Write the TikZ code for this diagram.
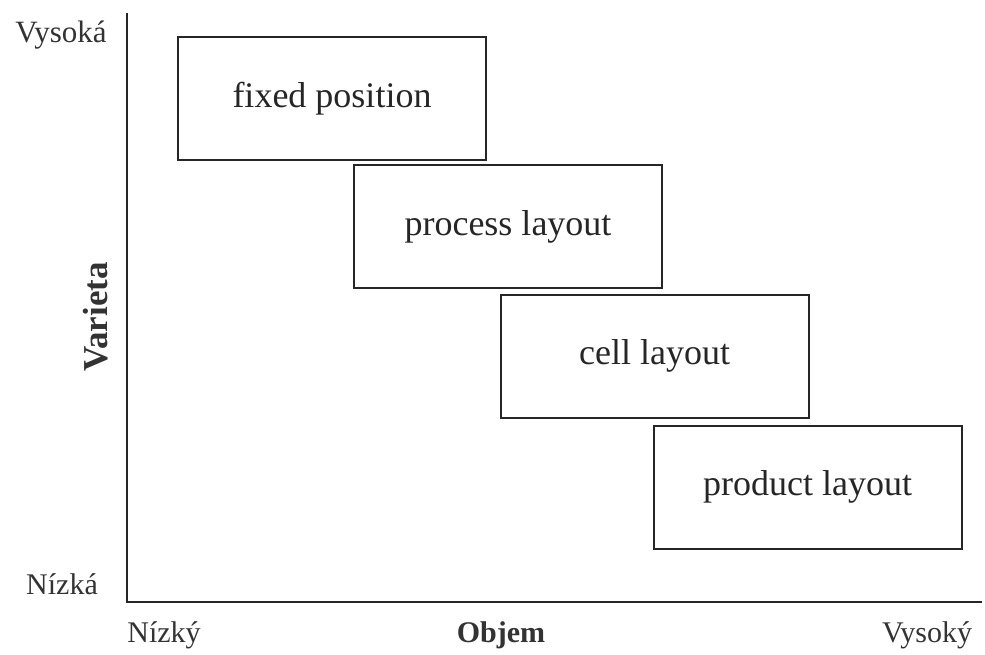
\documentclass[tikz,border=0pt]{standalone}
\usepackage{fontspec}
\setmainfont{Liberation Serif}
\begin{document}
\begin{tikzpicture}[x=1pt,y=-1pt,
  zone/.style={draw=black!85, line width=2pt, minimum width=308pt, minimum height=123pt,
    font=\fontsize{36}{40}\selectfont, text=black!85, inner sep=0pt},
  axislabel/.style={font=\fontsize{30}{34}\selectfont, text=black!80, inner sep=0pt},
  axis/.style={draw=black!85, line width=2.2pt}]
  \useasboundingbox (0,0) rectangle (985,655);
  % axes
  \coordinate (top) at (127,13);
  \coordinate (origin) at (127,602);
  \coordinate (right) at (982,602);
  \draw[axis] (top) -- (origin) -- (right);
  % vertical axis labels
  \node[axislabel, font=\fontsize{31}{34}\selectfont] (vhigh) at (61,35) {Vysoká};
  \node[axislabel] (vlow) at (62,584) {Nízká};
  \node[axislabel, font=\fontsize{35}{38}\selectfont\bfseries, rotate=90] (vtitle) at (96,317) {Varieta};
  % horizontal axis labels
  \node[axislabel] (hlow) at (164,635) {Nízký};
  \node[axislabel, font=\fontsize{30}{34}\selectfont\bfseries] (htitle) at (501,635) {Objem};
  \node[axislabel] (hhigh) at (927,635) {Vysoký};
  % layout types
  \node[zone] (fixed) at (332,98.5) {fixed position};
  \node[zone] (process) at (508,226.5) {process layout};
  \node[zone] (cell) at (654.5,356) {cell layout};
  \node[zone] (product) at (807.5,487) {product layout};
\end{tikzpicture}
\end{document}
